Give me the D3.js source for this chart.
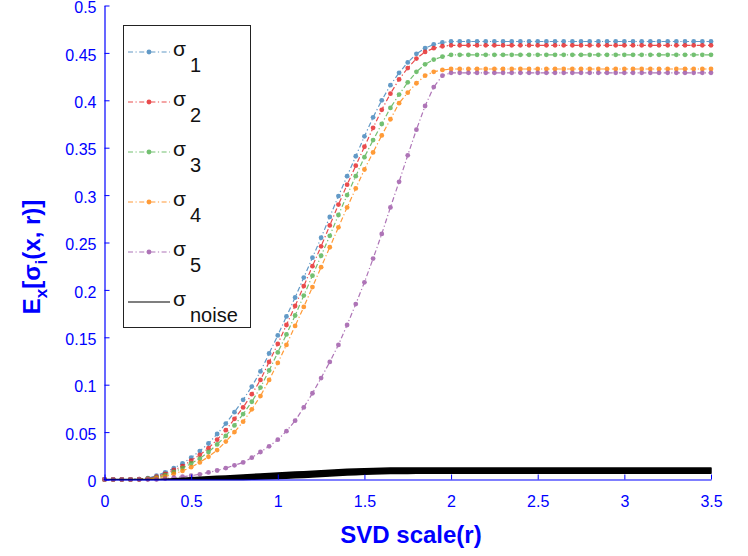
<!DOCTYPE html>
<html>
<head>
<meta charset="utf-8">
<script src="https://cdn.jsdelivr.net/npm/d3@7"></script>
<style>
  body { margin: 0; background: #fff; }
  svg { display: block; font-family: "Liberation Sans", Arial, Helvetica, sans-serif; }
</style>
</head>
<body>
<svg id="chart" width="748" height="556"></svg>
<script>
// SVD scale r
const rValues = [
  0, 0.05, 0.1, 0.15, 0.2, 0.25, 0.3, 0.35, 0.4, 0.45,
  0.5, 0.55, 0.6, 0.65, 0.7, 0.75, 0.8, 0.85, 0.9, 0.95,
  1, 1.05, 1.1, 1.15, 1.2, 1.25, 1.3, 1.35, 1.4, 1.45,
  1.5, 1.55, 1.6, 1.65, 1.7, 1.75, 1.8, 1.85, 1.9, 1.95,
  2, 2.05, 2.1, 2.15, 2.2, 2.25, 2.3, 2.35, 2.4, 2.45,
  2.5, 2.55, 2.6, 2.65, 2.7, 2.75, 2.8, 2.85, 2.9, 2.95,
  3, 3.05, 3.1, 3.15, 3.2, 3.25, 3.3, 3.35, 3.4, 3.45,
  3.5
];

const sigma1 = [
  0, 0, 0, 0, 0.0005, 0.0015, 0.004, 0.0075, 0.012, 0.017,
  0.023, 0.030, 0.038, 0.048, 0.059, 0.071, 0.084, 0.098, 0.114, 0.133,
  0.152, 0.172, 0.192, 0.213, 0.234, 0.255, 0.277, 0.299, 0.320, 0.341,
  0.362, 0.382, 0.400, 0.416, 0.429, 0.440, 0.449, 0.455, 0.459, 0.461,
  0.462, 0.462, 0.462, 0.462, 0.462, 0.462, 0.462, 0.462, 0.462, 0.462,
  0.462, 0.462, 0.462, 0.462, 0.462, 0.462, 0.462, 0.462, 0.462, 0.462,
  0.462, 0.462, 0.462, 0.462, 0.462, 0.462, 0.462, 0.462, 0.462, 0.462,
  0.462
];

const sigma2 = [
  0, 0, 0, 0, 0.0003, 0.001, 0.003, 0.006, 0.010, 0.014,
  0.020, 0.026, 0.033, 0.042, 0.052, 0.064, 0.076, 0.090, 0.105, 0.124,
  0.143, 0.163, 0.183, 0.204, 0.225, 0.246, 0.268, 0.290, 0.311, 0.331,
  0.351, 0.371, 0.390, 0.407, 0.422, 0.434, 0.444, 0.451, 0.455, 0.457,
  0.458, 0.458, 0.458, 0.458, 0.458, 0.458, 0.458, 0.458, 0.458, 0.458,
  0.458, 0.458, 0.458, 0.458, 0.458, 0.458, 0.458, 0.458, 0.458, 0.458,
  0.458, 0.458, 0.458, 0.458, 0.458, 0.458, 0.458, 0.458, 0.458, 0.458,
  0.458
];

const sigma3 = [
  0, 0, 0, 0, 0.0002, 0.0008, 0.002, 0.0045, 0.008, 0.012,
  0.017, 0.022, 0.029, 0.037, 0.046, 0.057, 0.069, 0.082, 0.097, 0.115,
  0.134, 0.153, 0.173, 0.194, 0.215, 0.236, 0.257, 0.279, 0.300, 0.320,
  0.340, 0.358, 0.375, 0.392, 0.406, 0.419, 0.430, 0.438, 0.443, 0.446,
  0.448, 0.448, 0.448, 0.448, 0.448, 0.448, 0.448, 0.448, 0.448, 0.448,
  0.448, 0.448, 0.448, 0.448, 0.448, 0.448, 0.448, 0.448, 0.448, 0.448,
  0.448, 0.448, 0.448, 0.448, 0.448, 0.448, 0.448, 0.448, 0.448, 0.448,
  0.448
];

const sigma4 = [
  0, 0, 0, 0, 0, 0.0005, 0.0015, 0.003, 0.006, 0.009,
  0.013, 0.018, 0.024, 0.031, 0.040, 0.050, 0.061, 0.074, 0.088, 0.105,
  0.123, 0.142, 0.162, 0.182, 0.203, 0.224, 0.245, 0.266, 0.287, 0.307,
  0.327, 0.345, 0.363, 0.380, 0.397, 0.408, 0.418, 0.426, 0.430, 0.432,
  0.433, 0.433, 0.433, 0.433, 0.433, 0.433, 0.433, 0.433, 0.433, 0.433,
  0.433, 0.433, 0.433, 0.433, 0.433, 0.433, 0.433, 0.433, 0.433, 0.433,
  0.433, 0.433, 0.433, 0.433, 0.433, 0.433, 0.433, 0.433, 0.433, 0.433,
  0.433
];

const sigma5 = [
  0, 0, 0, 0, 0, 0, 0, 0.001, 0.002, 0.003,
  0.004, 0.0055, 0.0075, 0.0095, 0.012, 0.015, 0.018, 0.023, 0.029, 0.035,
  0.042, 0.051, 0.062, 0.076, 0.091, 0.107, 0.124, 0.142, 0.163, 0.185,
  0.208, 0.233, 0.259, 0.287, 0.314, 0.342, 0.369, 0.394, 0.414, 0.426,
  0.429, 0.429, 0.429, 0.429, 0.429, 0.429, 0.429, 0.429, 0.429, 0.429,
  0.429, 0.429, 0.429, 0.429, 0.429, 0.429, 0.429, 0.429, 0.429, 0.429,
  0.429, 0.429, 0.429, 0.429, 0.429, 0.429, 0.429, 0.429, 0.429, 0.429,
  0.429
];

// noise curves form a thin band: upper and lower envelope
const noiseHigh = [
  0, 0, 0, 0, 0, 0, 0, 0.0003, 0.0008, 0.0013,
  0.0018, 0.0023, 0.0028, 0.0033, 0.0038, 0.0043, 0.0048, 0.0053, 0.0058, 0.0063,
  0.0068, 0.0073, 0.0078, 0.0083, 0.0088, 0.0093, 0.0098, 0.0103, 0.0107, 0.0111,
  0.0114, 0.0117, 0.0119, 0.0120, 0.0121, 0.0122, 0.0122, 0.0122, 0.0122, 0.0122,
  0.0122, 0.0122, 0.0122, 0.0122, 0.0122, 0.0122, 0.0122, 0.0122, 0.0122, 0.0122,
  0.0122, 0.0122, 0.0122, 0.0122, 0.0122, 0.0122, 0.0122, 0.0122, 0.0122, 0.0122,
  0.0122, 0.0122, 0.0122, 0.0122, 0.0122, 0.0122, 0.0122, 0.0122, 0.0122, 0.0122,
  0.0122
];

const noiseLow = [
  0, 0, 0, 0, 0, 0, 0, 0, 0, 0,
  0, 0, 0, 0, 0, 0, 0.0001, 0.0002, 0.0004, 0.0007,
  0.0010, 0.0014, 0.0018, 0.0022, 0.0027, 0.0032, 0.0037, 0.0042, 0.0047, 0.0051,
  0.0055, 0.0058, 0.0060, 0.0062, 0.0063, 0.0064, 0.0065, 0.0066, 0.0067, 0.0067,
  0.0067, 0.0067, 0.0067, 0.0067, 0.0067, 0.0067, 0.0067, 0.0067, 0.0067, 0.0067,
  0.0067, 0.0067, 0.0067, 0.0067, 0.0067, 0.0067, 0.0067, 0.0067, 0.0067, 0.0067,
  0.0067, 0.0067, 0.0067, 0.0067, 0.0067, 0.0067, 0.0067, 0.0067, 0.0067, 0.0067,
  0.0067
];

const seriesNames = ["1", "2", "3", "4", "5"];
const seriesColors = ["#377eb8", "#e41a1c", "#4daf4a", "#ff7f00", "#984ea3"];

const xTicks = [0, 0.5, 1, 1.5, 2, 2.5, 3, 3.5];
const xTickLabels = ["0", "0.5", "1", "1.5", "2", "2.5", "3", "3.5"];
const yTicks = [0, 0.05, 0.1, 0.15, 0.2, 0.25, 0.3, 0.35, 0.4, 0.45, 0.5];
const yTickLabels = ["0", "0.05", "0.1", "0.15", "0.2", "0.25", "0.3", "0.35", "0.4", "0.45", "0.5"];

const svg = d3.select("#chart");
const axisBlue = "#0000ff";
const margin = { top: 5.5, left: 104.5, right: 37, bottom: 76.5 };
const width = +svg.attr("width") - margin.left - margin.right;
const height = +svg.attr("height") - margin.top - margin.bottom;

svg.append("rect").attr("width", 748).attr("height", 556).attr("fill", "#fff");

const xScale = d3.scaleLinear().domain([0, 3.5]).range([margin.left, margin.left + width]);
const yScale = d3.scaleLinear().domain([0, 0.5]).range([margin.top + height, margin.top]);

const allSeries = [sigma1, sigma2, sigma3, sigma4, sigma5];

const line = d3.line()
  .x((d, i) => xScale(rValues[i]))
  .y(d => yScale(d));

const plot = svg.append("g");

allSeries.forEach((vals, k) => {
  const g = plot.append("g").attr("opacity", 0.78);
  g.append("path")
    .attr("d", line(vals))
    .attr("fill", "none")
    .attr("stroke", seriesColors[k])
    .attr("stroke-width", 1.2)
    .attr("stroke-dasharray", "5,2.5,1.2,2.5");
  g.selectAll("circle")
    .data(vals)
    .enter()
    .append("circle")
    .attr("cx", (d, i) => xScale(rValues[i]))
    .attr("cy", d => yScale(d))
    .attr("r", 2.4)
    .attr("fill", seriesColors[k]);
});

// noise band
const noiseArea = d3.area()
  .x((d, i) => xScale(rValues[i]))
  .y0((d, i) => yScale(noiseLow[i]))
  .y1(d => yScale(d));

plot.append("path")
  .attr("d", noiseArea(noiseHigh))
  .attr("fill", "#000")
  .attr("stroke", "#000")
  .attr("stroke-width", 1.5)
  .attr("stroke-linejoin", "round");

// axes
const xAxis = svg.append("g")
  .attr("transform", `translate(0,${margin.top + height})`)
  .call(d3.axisBottom(xScale)
    .tickValues(xTicks)
    .tickFormat((d, i) => xTickLabels[i])
    .tickSizeInner(-5)
    .tickSizeOuter(0)
    .tickPadding(16));

const yAxis = svg.append("g")
  .attr("transform", `translate(${margin.left},0)`)
  .call(d3.axisLeft(yScale)
    .tickValues(yTicks)
    .tickFormat((d, i) => yTickLabels[i])
    .tickSizeInner(-5)
    .tickSizeOuter(0)
    .tickPadding(8));

[xAxis, yAxis].forEach(a => {
  a.select(".domain").attr("stroke", axisBlue).attr("stroke-width", 1.2);
  a.selectAll(".tick line").attr("stroke", axisBlue).attr("stroke-width", 1);
  a.selectAll(".tick text")
    .attr("fill", axisBlue)
    .style("font-size", "16px")
    .style("font-family", "'Liberation Sans', Arial, sans-serif");
});
yAxis.selectAll(".tick text").attr("dy", "0.45em");

// axis titles
svg.append("text")
  .attr("x", 411)
  .attr("y", 543)
  .attr("text-anchor", "middle")
  .attr("fill", axisBlue)
  .style("font-size", "24px")
  .style("font-weight", "bold")
  .text("SVD scale(r)");

const yLabel = svg.append("text")
  .attr("transform", "translate(40,257) rotate(-90)")
  .attr("text-anchor", "middle")
  .attr("fill", axisBlue)
  .style("font-size", "24px")
  .style("font-weight", "bold");
yLabel.append("tspan").text("E");
yLabel.append("tspan").attr("dy", 7).style("font-size", "17px").text("x");
yLabel.append("tspan").attr("dy", -7).text("[σ");
yLabel.append("tspan").attr("dy", 7).style("font-size", "17px").text("i");
yLabel.append("tspan").attr("dy", -7).text("(x, r)]");

// legend
const legend = svg.append("g");
legend.append("rect")
  .attr("x", 123.5).attr("y", 25.5)
  .attr("width", 127).attr("height", 302)
  .attr("fill", "#fff")
  .attr("stroke", "#222")
  .attr("stroke-width", 1);

const legendRows = seriesNames.concat(["noise"]);
legendRows.forEach((name, k) => {
  const ly = 52 + k * 50;
  const row = legend.append("g");
  if (k < 5) {
    const gg = row.append("g").attr("opacity", 0.78);
    gg.append("line")
      .attr("x1", 128).attr("x2", 170)
      .attr("y1", ly).attr("y2", ly)
      .attr("stroke", seriesColors[k])
      .attr("stroke-width", 1.2)
      .attr("stroke-dasharray", "5,2.5,1.2,2.5");
    gg.append("circle")
      .attr("cx", 149).attr("cy", ly).attr("r", 2.4)
      .attr("fill", seriesColors[k]);
  } else {
    row.append("line")
      .attr("x1", 128).attr("x2", 170)
      .attr("y1", ly).attr("y2", ly)
      .attr("stroke", "#000")
      .attr("stroke-width", 1.2);
  }
  row.append("text")
    .attr("x", 173).attr("y", ly + 4)
    .attr("fill", "#111")
    .style("font-size", "21px")
    .text("σ");
  row.append("text")
    .attr("x", 190).attr("y", ly + 20)
    .attr("fill", "#111")
    .style("font-size", "20px")
    .text(name);
});
</script>
</body>
</html>
